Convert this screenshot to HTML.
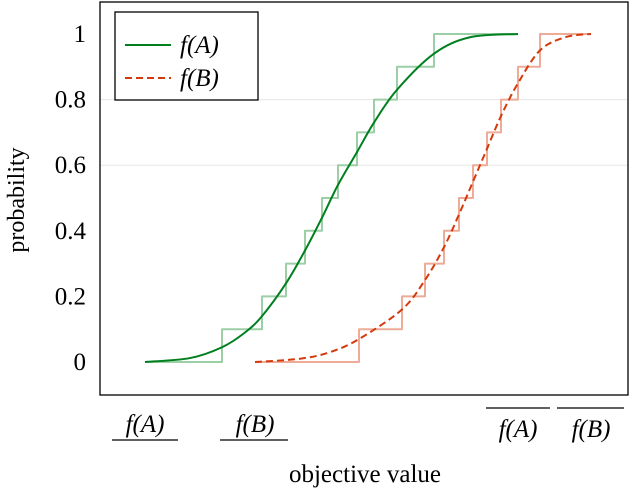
<!DOCTYPE html>
<html><head><meta charset="utf-8"><style>
body{margin:0;background:#fff}
svg,svg text{font-family:"Liberation Serif","Times New Roman","DejaVu Serif",Times,serif}
</style></head><body>
<svg id="chart" width="636" height="494" font-family="Liberation Serif, Times New Roman, serif">
<rect x="0" y="0" width="636" height="494" fill="#fff"/>
<g id="grid"></g>
<g id="marks"></g>
<rect x="100" y="2" width="528" height="393" fill="none" stroke="#000" stroke-width="1.3"/>
<g id="yticks"></g>
<text x="24" y="200" font-size="24" text-anchor="middle" transform="rotate(-90 24 200)">probability</text>
<text x="365" y="482" font-size="25" text-anchor="middle">objective value</text>
<g><text x="145" y="432" font-size="25" font-style="italic" text-anchor="middle">f(A)</text><line x1="112" x2="178" y1="440" y2="440" stroke="#000" stroke-width="1.3"/></g>
<g><text x="255" y="432" font-size="25" font-style="italic" text-anchor="middle">f(B)</text><line x1="220" x2="288" y1="440" y2="440" stroke="#000" stroke-width="1.3"/></g>
<g><text x="518" y="437" font-size="25" font-style="italic" text-anchor="middle">f(A)</text><line x1="486" x2="550" y1="408" y2="408" stroke="#000" stroke-width="1.3"/></g>
<g><text x="591" y="437" font-size="25" font-style="italic" text-anchor="middle">f(B)</text><line x1="557" x2="624" y1="408" y2="408" stroke="#000" stroke-width="1.3"/></g>
<g>
<rect x="115" y="12" width="143" height="88" fill="#fff" stroke="#000" stroke-width="1.3"/>
<line x1="125" x2="171" y1="45" y2="45" stroke="#007f1f" stroke-width="2"/>
<text x="180" y="53" font-size="25" font-style="italic">f(A)</text>
<line x1="125" x2="171" y1="78" y2="78" stroke="#d43a0c" stroke-width="2" stroke-dasharray="7,4"/>
<text x="180" y="86" font-size="25" font-style="italic">f(B)</text>
</g>
</svg>
<script>
const yTicks=[0,0.2,0.4,0.6,0.8,1];
const yTickLabels=["0","0.2","0.4","0.6","0.8","1"];
const gridLevels=[0.6,0.8];
const stepAx=[0,0.77,1.17,1.41,1.60,1.77,1.93,2.12,2.29,2.52,2.89,3.73];
const stepAy=[0,0.1,0.2,0.3,0.4,0.5,0.6,0.7,0.8,0.9,1.0,1.0];
const stepBx=[1.10,2.14,2.57,2.80,2.99,3.14,3.28,3.42,3.56,3.73,3.95,4.46];
const stepBy=[0,0.1,0.2,0.3,0.4,0.5,0.6,0.7,0.8,0.9,1.0,1.0];
const curveAx=[0,0.45,0.77,1.0,1.17,1.41,1.60,1.77,1.93,2.12,2.29,2.52,2.89,3.25,3.73];
const curveAy=[0,0.012,0.045,0.09,0.14,0.24,0.34,0.44,0.54,0.64,0.73,0.83,0.94,0.99,1];
const curveBx=[1.10,1.55,1.85,2.14,2.57,2.80,2.99,3.14,3.28,3.42,3.56,3.73,3.95,4.20,4.46];
const curveBy=[0,0.01,0.03,0.07,0.16,0.25,0.35,0.45,0.55,0.65,0.75,0.85,0.95,0.99,1];
const NS="http://www.w3.org/2000/svg";
function xs(v){return 145+v*100;}
function ys(v){return 362-v*328;}
const grid=document.getElementById('grid'),marks=document.getElementById('marks'),yt=document.getElementById('yticks');
gridLevels.forEach(g=>{const l=document.createElementNS(NS,'line');


l.setAttribute('x1',100);l.setAttribute('x2',628);l.setAttribute('y1',ys(g));l.setAttribute('y2',ys(g));l.setAttribute('stroke','#e6e6e6');l.setAttribute('stroke-width','1');grid.appendChild(l);});
yTicks.forEach((t,i)=>{const tx=document.createElementNS(NS,'text');


tx.setAttribute('x',86);tx.setAttribute('y',ys(t)+8);tx.setAttribute('font-size','25');tx.setAttribute('text-anchor','end');tx.textContent=yTickLabels[i];yt.appendChild(tx);});
function stepPath(xa,ya){let d='M'+xs(xa[0])+' '+ys(ya[0]);for(let i=1;i<xa.length;i++){d+=' H'+xs(xa[i])+' V'+ys(ya[i]);}return d;}
function smoothPath(xa,ya){const P=xa.map((x,i)=>[xs(x),ys(ya[i])]);let d='M'+P[0][0]+' '+P[0][1];
for(let i=0;i<P.length-1;i++){const p0=P[Math.max(0,i-1)],p1=P[i],p2=P[i+1],p3=P[Math.min(P.length-1,i+2)];
const c1=[p1[0]+(p2[0]-p0[0])/6,p1[1]+(p2[1]-p0[1])/6],c2=[p2[0]-(p3[0]-p1[0])/6,p2[1]-(p3[1]-p1[1])/6];
d+=' C'+c1[0]+' '+c1[1]+' '+c2[0]+' '+c2[1]+' '+p2[0]+' '+p2[1];}return d;}
function addPath(d,stroke,w,dash,name){const p=document.createElementNS(NS,'path');


p.setAttribute('d',d);p.setAttribute('fill','none');p.setAttribute('stroke',stroke);p.setAttribute('stroke-width',w);if(dash)p.setAttribute('stroke-dasharray',dash);p.setAttribute('stroke-linejoin','round');marks.appendChild(p);}
addPath(stepPath(stepAx,stepAy),'#9ccfa6',2,null,'empirical-step-a');
addPath(stepPath(stepBx,stepBy),'#eeab98',2,null,'empirical-step-b');
addPath(smoothPath(curveAx,curveAy),'#007f1f',2,null,'cdf-curve-a');
addPath(smoothPath(curveBx,curveBy),'#d43a0c',2,'7,4','cdf-curve-b');
</script>
</body></html>
